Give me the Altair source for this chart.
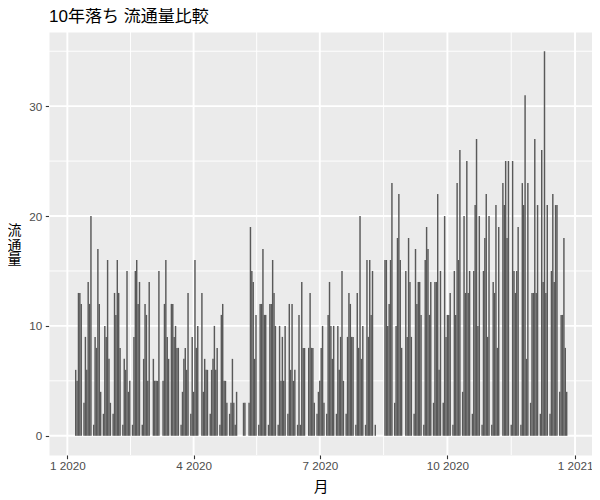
import altair as alt
import pandas as pd

# ---- data: one row of six values per week (Monday .. Saturday) ----
first_monday = "2020-01-06"

q1_weeks = [
    [0, 6, 5, 13, 13, 12],    # Jan 6
    [3, 9, 6, 14, 12, 20],    # Jan 13
    [1, 9, 8, 17, 12, 4],     # Jan 20
    [2, 10, 9, 16, 7, 3],     # Jan 27
    [2, 13, 11, 16, 13, 8],   # Feb 3
    [1, 7, 6, 15, 4, 5],      # Feb 10
    [1, 9, 15, 16, 12, 14],   # Feb 17
    [1, 7, 12, 11, 5, 14],    # Feb 24
    [0, 7, 5, 5, 5, 15],      # Mar 2
    [0, 5, 12, 16, 9, 7],     # Mar 9
    [12, 12, 9, 10, 8, 8],    # Mar 16
    [1, 4, 7, 8, 6, 13],      # Mar 23
    [2, 9, 4, 16, 8, 10],     # Mar 30
]
q2_weeks = [
    [0, 13, 4, 7, 6, 6],      # Apr 6
    [2, 6, 7, 10, 6, 8],      # Apr 13
    [1, 11, 12, 5, 5, 3],     # Apr 20
    [2, 3, 7, 3, 1, 4],       # Apr 27
    [0, 0, 0, 3, 3, 0],       # May 4
    [3, 19, 15, 14, 7, 11],   # May 11
    [1, 12, 12, 17, 11, 11],  # May 18
    [1, 12, 12, 16, 13, 10],  # May 25
    [1, 10, 5, 9, 5, 10],     # Jun 1
    [2, 12, 6, 12, 5, 6],     # Jun 8
    [1, 11, 1, 14, 8, 8],     # Jun 15
    [0, 8, 13, 8, 8, 3],      # Jun 22
    [2, 4, 5, 8, 10, 3],      # Jun 29
]
q3_weeks = [
    [2, 11, 14, 10, 7, 10],   # Jul 6
    [2, 10, 6, 9, 15, 5],     # Jul 13
    [2, 9, 13, 12, 9, 9],     # Jul 20
    [1, 13, 8, 20, 7, 10],    # Jul 27
    [1, 16, 9, 16, 11, 15],   # Aug 3
    [1, 0, 0, 0, 0, 0],       # Aug 10
    [16, 16, 10, 12, 16, 23], # Aug 17
    [3, 10, 18, 22, 16, 8],   # Aug 24
    [0, 15, 9, 18, 14, 9],    # Aug 31
    [2, 17, 12, 14, 14, 11],  # Sep 7
    [1, 16, 19, 17, 11, 14],  # Sep 14
    [3, 14, 14, 22, 6, 15],   # Sep 21
    [3, 20, 9, 11, 11, 13],   # Sep 28
]
q4_weeks = [
    [1, 15, 11, 23, 16, 26],  # Oct 5
    [4, 20, 13, 25, 13, 15],  # Oct 12
    [2, 15, 21, 27, 10, 20],  # Oct 19
    [1, 15, 18, 22, 9, 20],   # Oct 26
    [1, 14, 13, 21, 8, 19],   # Nov 2
    [0, 23, 21, 25, 18, 25],  # Nov 9
    [1, 25, 15, 13, 15, 19],  # Nov 16
    [1, 23, 21, 31, 7, 23],   # Nov 23
    [3, 13, 13, 27, 13, 21],  # Nov 30
    [2, 26, 14, 35, 13, 21],  # Dec 7
    [2, 15, 22, 14, 21, 21],  # Dec 14
    [4, 11, 11, 18, 8, 4],    # Dec 21
]

major_dates = ["2020-01-01", "2020-04-01", "2020-07-01", "2020-10-01", "2021-01-01"]
y_major = [0, 10, 20, 30]
y_minor = [5, 15, 25, 35]

title_text = "10年落ち 流通量比較"
x_title = "月"
y_title = ["流", "通", "量"]

# ---- build table ----
EPOCH = pd.Timestamp("1970-01-01")
MS = pd.Timedelta(milliseconds=1)
DAY = pd.Timedelta(days=1)
HALF_BAR = 0.52 * DAY   # drawn touching, as in the rasterised original
DATA_HALF = 0.45 * DAY  # ggplot bar half-width, used for the axis expansion


def ms(ts):
    return int((pd.Timestamp(ts) - EPOCH) // MS)


rows = []
start = pd.Timestamp(first_monday)
for i, week in enumerate(q1_weeks + q2_weeks + q3_weeks + q4_weeks):
    monday = start + pd.Timedelta(days=7 * i)
    for j, v in enumerate(week):
        d = monday + pd.Timedelta(days=j)
        rows.append({"value": v, "day": d,
                     "start": ms(d - HALF_BAR), "end": ms(d + HALF_BAR)})
df = pd.DataFrame(rows)

# ggplot-like 5% expansion
lo, hi = ms(df["day"].min() - DATA_HALF), ms(df["day"].max() + DATA_HALF)
span = hi - lo
x_domain = [lo - 0.05 * span, hi + 0.05 * span]
ymax = float(df["value"].max())
y_domain = [-0.05 * ymax, ymax * 1.05]

major_ms = [ms(d) for d in major_dates]
minor_ms = [(a + b) / 2 for a, b in zip(major_ms[:-1], major_ms[1:])]

bars_df = df[df["value"] > 0][["value", "start", "end"]]

xscale = alt.Scale(type="utc", domain=x_domain, nice=False)
yscale = alt.Scale(domain=y_domain, nice=False, zero=False)

FONT = "Liberation Sans, Arial, Noto Sans CJK JP"

xaxis = alt.Axis(values=major_ms, format="%-m %Y",
                 labelColor="#4D4D4D", labelFontSize=11.7, labelFont=FONT,
                 labelPadding=2, labelFlush=False, labelOverlap=False,
                 tickColor="#333333", tickSize=3.7, tickWidth=1.1,
                 domain=False, grid=False,
                 titleFontSize=14.7, titleColor="black", titleFont=FONT,
                 titleFontWeight="normal", titlePadding=7)
yaxis = alt.Axis(values=y_major, labelColor="#4D4D4D", labelFontSize=11.7,
                 labelFont=FONT, labelPadding=3.5,
                 tickColor="#333333", tickSize=3.7, tickWidth=1.1,
                 domain=False, grid=False,
                 titleFontSize=14, titleColor="black", titleFont=FONT,
                 titleFontWeight="normal", titleAngle=0,
                 titleAlign="center", titleBaseline="middle",
                 titleLineHeight=14.5, titleX=-35, titleY=198.5)

grid_xmin = alt.Chart(pd.DataFrame({"start": minor_ms})).mark_rule(
    color="white", strokeWidth=0.95).encode(
    x=alt.X("start:T", scale=xscale, axis=xaxis, title=x_title))
grid_xmaj = alt.Chart(pd.DataFrame({"start": major_ms})).mark_rule(
    color="white", strokeWidth=1.9).encode(
    x=alt.X("start:T", scale=xscale, axis=xaxis, title=x_title))
grid_ymin = alt.Chart(pd.DataFrame({"value": y_minor})).mark_rule(
    color="white", strokeWidth=0.95).encode(
    y=alt.Y("value:Q", scale=yscale, axis=yaxis, title=y_title))
grid_ymaj = alt.Chart(pd.DataFrame({"value": y_major})).mark_rule(
    color="white", strokeWidth=1.9).encode(
    y=alt.Y("value:Q", scale=yscale, axis=yaxis, title=y_title))

bars = alt.Chart(bars_df).mark_bar(color="#595959").encode(
    x=alt.X("start:T", scale=xscale, axis=xaxis, title=x_title),
    x2="end:T",
    y=alt.Y("value:Q", scale=yscale, axis=yaxis, title=y_title, stack=None),
    y2=alt.datum(0),
)

chart = alt.layer(grid_ymin, grid_ymaj, grid_xmin, grid_xmaj, bars).properties(
    width=543,
    height=423,
    background="white",
    autosize=alt.AutoSizeParams(type="none"),
    padding={"left": 41, "top": 24, "right": 0, "bottom": 45},
    title=alt.TitleParams(title_text, anchor="start", frame="group", fontSize=17,
                          fontWeight="normal", color="black", font=FONT, offset=5),
).configure_view(fill="#EBEBEB", stroke="transparent")

chart.save("out.html", embed_options={"renderer": "svg", "actions": False})
